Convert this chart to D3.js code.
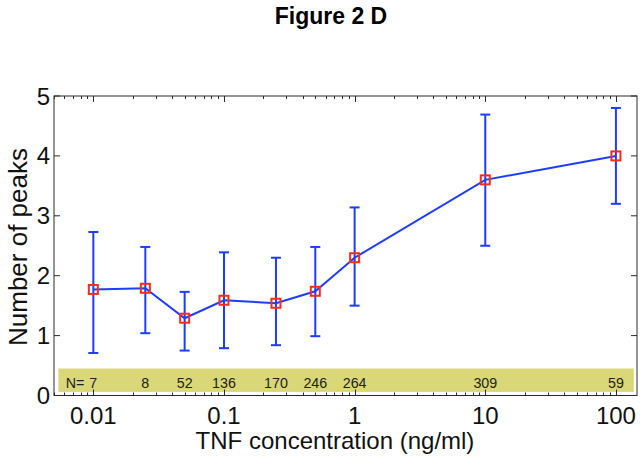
<!DOCTYPE html>
<html>
<head>
<meta charset="utf-8">
<script src="https://cdn.jsdelivr.net/npm/d3@7"></script>
<style>
  html, body { margin: 0; padding: 0; background: #fff; }
  svg { display: block; font-family: Arial, "Liberation Sans", Helvetica, sans-serif; }
</style>
</head>
<body>
<svg id="chart" width="643" height="460"></svg>
<script>
// ---- data ----
const concentrations = [0.01, 0.025, 0.05, 0.1, 0.25, 0.5, 1, 10, 100];
const meanPeaks      = [1.77, 1.79, 1.29, 1.59, 1.54, 1.74, 2.30, 3.60, 4.00];
const upperPeaks     = [2.73, 2.48, 1.73, 2.39, 2.30, 2.48, 3.14, 4.69, 4.80];
const lowerPeaks     = [0.71, 1.04, 0.75, 0.79, 0.84, 0.99, 1.50, 2.50, 3.20];
const nCounts        = ["7", "8", "52", "136", "170", "246", "264", "309", "59"];
const xTickValues    = [0.01, 0.1, 1, 10, 100];
const xTickLabels    = ["0.01", "0.1", "1", "10", "100"];
const yTickValues    = [0, 1, 2, 3, 4, 5];
const xDomain        = [0.005, 145];
const yDomain        = [0, 5];
const bandX          = [0.0054, 137];
const bandY          = [0.06, 0.45];

// ---- layout ----
const svg = d3.select("#chart");
const L = 54, R = 637, T = 96, B = 395.5;
const x = d3.scaleLog().domain(xDomain).range([L, R]);
const y = d3.scaleLinear().domain(yDomain).range([B, T]);

const blue = "#1e3cff", red = "#ff2a14", axisCol = "#2a2a2a";

// title
svg.append("text").attr("x", 331).attr("y", 24).attr("text-anchor", "middle")
  .attr("font-size", 23).attr("font-weight", "bold").text("Figure 2 D");

// yellow N band
svg.append("rect")
  .attr("x", x(bandX[0])).attr("y", y(bandY[1]))
  .attr("width", x(bandX[1]) - x(bandX[0])).attr("height", y(bandY[0]) - y(bandY[1]))
  .attr("fill", "#d9d777");

// N labels
const nG = svg.append("g").attr("font-size", 15.5).attr("fill", "#222");
concentrations.forEach((c, i) => {
  nG.append("text").attr("transform", `translate(${x(c)},387.5) scale(0.92,1)`)
    .attr("text-anchor", "middle").text(nCounts[i]);
});
nG.append("text").attr("transform", `translate(${x(concentrations[0]) - 9},387.5) scale(0.92,1)`)
  .attr("text-anchor", "end").text("N=");

// axes box with ticks (MATLAB style: inward on all sides)
const allX = x.ticks().filter(v => v >= xDomain[0] && v <= xDomain[1]);
const isMajor = v => Math.abs(Math.log10(v) - Math.round(Math.log10(v))) < 1e-9;
const axG = svg.append("g").attr("stroke", axisCol).attr("stroke-width", 1).attr("fill", "none");
axG.append("rect").attr("x", L).attr("y", T).attr("width", R - L).attr("height", B - T);
allX.forEach(v => {
  const len = isMajor(v) ? 6 : 3;
  const px = Math.round(x(v)) + 0.5;
  axG.append("line").attr("x1", px).attr("x2", px).attr("y1", B).attr("y2", B - len);
  axG.append("line").attr("x1", px).attr("x2", px).attr("y1", T).attr("y2", T + len);
});
yTickValues.forEach(v => {
  const py = y(v);
  axG.append("line").attr("x1", L).attr("x2", L + 6).attr("y1", py).attr("y2", py);
  axG.append("line").attr("x1", R).attr("x2", R - 6).attr("y1", py).attr("y2", py);
});

// tick labels
const tl = svg.append("g").attr("font-size", 24).attr("fill", "#111");
xTickValues.forEach((v, i) => {
  tl.append("text").attr("x", x(v)).attr("y", 424).attr("text-anchor", "middle").text(xTickLabels[i]);
});
yTickValues.forEach(v => {
  tl.append("text").attr("x", 50).attr("y", y(v) + 8.5).attr("text-anchor", "end").text(v);
});

// axis titles
svg.append("text").attr("x", 335).attr("y", 449).attr("text-anchor", "middle")
  .attr("font-size", 24).attr("fill", "#111").text("TNF concentration (ng/ml)");
svg.append("text").attr("transform", "translate(27,247) rotate(-90)")
  .attr("text-anchor", "middle").attr("font-size", 26).attr("fill", "#111").text("Number of peaks");

// error bars
const eb = svg.append("g").attr("stroke", blue).attr("stroke-width", 2).attr("fill", "none");
concentrations.forEach((c, i) => {
  const px = x(c);
  eb.append("line").attr("x1", px).attr("x2", px).attr("y1", y(lowerPeaks[i])).attr("y2", y(upperPeaks[i]));
  eb.append("line").attr("x1", px - 5).attr("x2", px + 5).attr("y1", y(lowerPeaks[i])).attr("y2", y(lowerPeaks[i]));
  eb.append("line").attr("x1", px - 5).attr("x2", px + 5).attr("y1", y(upperPeaks[i])).attr("y2", y(upperPeaks[i]));
});

// line
const pts = concentrations.map((c, i) => [c, meanPeaks[i]]);
svg.append("path").datum(pts)
  .attr("d", d3.line().x(d => x(d[0])).y(d => y(d[1])))
  .attr("stroke", blue).attr("stroke-width", 2).attr("fill", "none");

// markers
svg.append("g").selectAll("rect").data(pts).join("rect")
  .attr("x", d => x(d[0]) - 4.5).attr("y", d => y(d[1]) - 4.5)
  .attr("width", 9).attr("height", 9)
  .attr("fill", "none").attr("stroke", red).attr("stroke-width", 2);
</script>
</body>
</html>
